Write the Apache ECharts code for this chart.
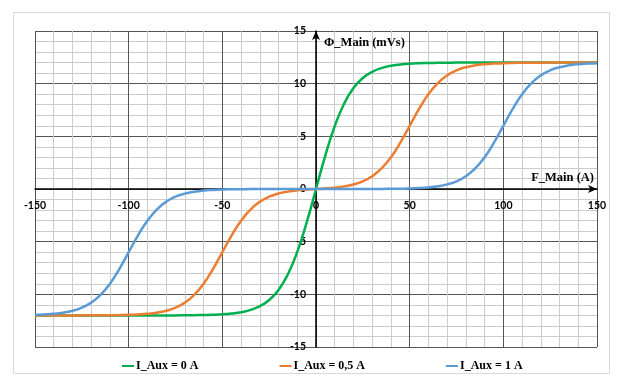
<!DOCTYPE html>
<html>
<head>
<meta charset="utf-8">
<script src="https://cdn.jsdelivr.net/npm/echarts@6/dist/echarts.min.js"></script>
<style>
html,body{margin:0;padding:0;background:#fff;}
#c{width:618px;height:382px;}
</style>
</head>
<body>
<div id="c"></div>
<script>
// F_Main (A)
var fMain = [-150,-145,-140,-135,-130,-125,-120,-115,-110,-105,-100,-95,-90,-85,-80,-75,-70,-65,-60,-55,-50,-45,-40,-35,-30,-25,-20,-15,-10,-5,
  0,5,10,15,20,25,30,35,40,45,50,55,60,65,70,75,80,85,90,95,100,105,110,115,120,125,130,135,140,145,150];
// Φ_Main (mVs), I_Aux = 0 A
var phiAux0 = [-12,-12,-12,-12,-12,-12,-12,-12,-12,-12,-12,-12,-12,-12,-12,-12,-11.99,-11.98,-11.96,-11.94,-11.9,-11.82,-11.7,-11.48,-11.12,-10.54,-9.58,-8.1,-5.97,-3.2,
  0,3.2,5.97,8.1,9.58,10.54,11.12,11.48,11.7,11.82,11.9,11.94,11.96,11.98,11.99,12,12,12,12,12,12,12,12,12,12,12,12,12,12,12,12];
// I_Aux = 0,5 A
var phiAux05 = [-12,-12,-12,-12,-12,-12,-11.99,-11.99,-11.98,-11.97,-11.95,-11.91,-11.85,-11.74,-11.56,-11.27,-10.79,-10.05,-8.99,-7.6,-6,-4.4,-3.01,-1.95,-1.21,-0.73,-0.43,-0.25,-0.13,-0.06,
  0,0.06,0.13,0.25,0.43,0.73,1.21,1.95,3.01,4.4,6,7.6,8.99,10.05,10.79,11.27,11.56,11.74,11.85,11.91,11.95,11.97,11.98,11.99,11.99,12,12,12,12,12,12];
// I_Aux = 1 A
var phiAux1 = [-11.95,-11.91,-11.85,-11.74,-11.56,-11.27,-10.79,-10.05,-8.99,-7.6,-6,-4.4,-3.01,-1.95,-1.21,-0.73,-0.44,-0.26,-0.15,-0.09,-0.05,-0.03,-0.02,-0.01,-0.01,0,0,0,0,0,
  0,0,0,0,0,0,0.01,0.01,0.02,0.03,0.05,0.09,0.15,0.26,0.44,0.73,1.21,1.95,3.01,4.4,6,7.6,8.99,10.05,10.79,11.27,11.56,11.74,11.85,11.91,11.95];
var seriesNames = ['I_Aux = 0 A','I_Aux = 0,5 A','I_Aux = 1 A'];
var seriesColors = ['#00b050','#ed7d31','#5b9bd5'];
var seriesValues = [phiAux0, phiAux05, phiAux1];

function pairs(vals){ return fMain.map(function(f,i){ return [f, vals[i]]; }); }

var chart = echarts.init(document.getElementById('c'), null, {renderer:'canvas'});
var serifBold = {fontFamily:'Liberation Serif', fontWeight:'bold', color:'#000'};
var numFont = {fontFamily:'Lato', fontWeight:'bold', fontSize:10.5, color:'#000'};

// plot area: 562 x 316 px; axes cross at the middle (value 0)
chart.setOption({
  animation:false,
  backgroundColor:'#fff',
  graphic:[{
    type:'rect', left:11, top:10, shape:{width:596, height:361},
    style:{fill:'none', stroke:'#d9d9d9', lineWidth:1}, silent:true, z:-10
  }],
  grid:{left:35, right:21, top:31, bottom:35, containLabel:false},
  legend:{
    bottom:5, left:117, itemGap:81, itemWidth:12, itemHeight:2, icon:'rect',
    textStyle:Object.assign({fontSize:12, padding:[0,0,0,-3]}, serifBold),
    data:seriesNames
  },
  xAxis:{
    type:'value', min:-150, max:150, interval:50, position:'bottom', offset:-158,
    name:'F_Main (A)', nameLocation:'end', nameGap:-3,
    nameTextStyle:Object.assign({fontSize:12.5, align:'right', verticalAlign:'bottom', padding:[0,0,5,0]}, serifBold),
    axisLine:{onZero:false, symbol:['none','arrow'], symbolSize:[6,9], lineStyle:{color:'#000', width:1.5}},
    axisTick:{show:false},
    axisLabel:Object.assign({margin:11}, numFont),
    splitLine:{show:true, lineStyle:{color:'#555555', width:1}},
    minorTick:{show:false, splitNumber:5},
    minorSplitLine:{show:true, lineStyle:{color:'#cccccc', width:1}}
  },
  yAxis:{
    type:'value', min:-15, max:15, interval:5, position:'left', offset:-281,
    name:'Φ_Main (mVs)', nameLocation:'end', nameGap:-5,
    nameTextStyle:Object.assign({fontSize:12.5, align:'left', verticalAlign:'top', padding:[0,0,0,8]}, serifBold),
    axisLine:{onZero:false, symbol:['none','arrow'], symbolSize:[6,9], lineStyle:{color:'#000', width:1.5}},
    axisTick:{show:false},
    axisLabel:Object.assign({margin:10}, numFont),
    splitLine:{show:true, lineStyle:{color:'#555555', width:1}},
    minorTick:{show:false, splitNumber:5},
    minorSplitLine:{show:true, lineStyle:{color:'#cccccc', width:1}}
  },
  series:seriesNames.map(function(n,i){
    return {
      name:n, type:'line', data:pairs(seriesValues[i]),
      showSymbol:false, smooth:true,
      lineStyle:{color:seriesColors[i], width:2.5},
      itemStyle:{color:seriesColors[i]}, z:3+i
    };
  })
});
</script>
</body>
</html>
